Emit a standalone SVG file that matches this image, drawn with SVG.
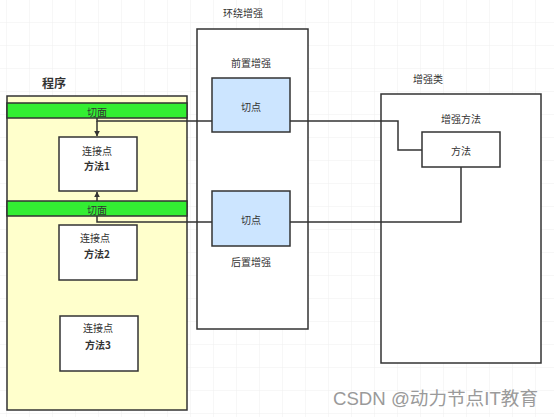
<svg xmlns="http://www.w3.org/2000/svg" width="554" height="417" viewBox="0 0 554 417">
<defs>
<pattern id="grid" width="23" height="23" patternUnits="userSpaceOnUse" x="7" y="0">
<path d="M23 0V23M0 23H23" fill="none" stroke="#efefef" stroke-width="1"/>
</pattern>
<marker id="arr" viewBox="0 0 10 10" refX="9" refY="5" markerWidth="6" markerHeight="6" orient="auto" markerUnits="userSpaceOnUse">
<path d="M0 0L10 5L0 10z" fill="#333"/>
</marker>
<style>
.box{stroke:#333;stroke-width:1.5}
.t{font-family:"Noto Sans CJK SC","Liberation Sans",sans-serif;font-size:10px;fill:#333;text-anchor:middle;dominant-baseline:central}
.b{font-weight:bold}
.ln{fill:none;stroke:#333;stroke-width:1.5}
</style>
</defs>
<rect width="554" height="417" fill="#fff"/>
<rect width="554" height="417" fill="url(#grid)"/>

<g id="program">
<text class="t b" x="54" y="82" style="font-size:12px">程序</text>
<rect class="box" x="7" y="96" width="180" height="314" fill="#ffffcc"/>
</g>
<g id="aspect1">
<rect class="box" x="7" y="103" width="180" height="15" fill="#33ee33"/>
<text class="t" x="97" y="111">切面</text>
</g>
<g id="aspect2">
<rect class="box" x="7" y="201" width="180" height="15" fill="#33ee33"/>
<text class="t" x="97" y="209">切面</text>
</g>
<g id="joinpoint1">
<rect class="box" x="59" y="137" width="78" height="54" fill="#fff"/>
<text class="t" x="97" y="150">连接点</text>
<text class="t b" x="97" y="165">方法1</text>
</g>
<g id="joinpoint2">
<rect class="box" x="59" y="225" width="78" height="55" fill="#fff"/>
<text class="t" x="95" y="237">连接点</text>
<text class="t b" x="97" y="253">方法2</text>
</g>
<g id="joinpoint3">
<rect class="box" x="60" y="316" width="78" height="55" fill="#fff"/>
<text class="t" x="98" y="327">连接点</text>
<text class="t b" x="98" y="344">方法3</text>
</g>

<g id="around">
<text class="t" x="243" y="12">环绕增强</text>
<rect class="box" x="197" y="29" width="111" height="300" fill="#fff"/>
<text class="t" x="251" y="62">前置增强</text>
<text class="t" x="251" y="261">后置增强</text>
</g>
<g id="pointcut1">
<rect class="box" x="212" y="78" width="78" height="54" fill="#cce5ff"/>
<text class="t" x="251" y="106">切点</text>
</g>
<g id="pointcut2">
<rect class="box" x="212" y="191" width="78" height="55" fill="#cce5ff"/>
<text class="t" x="251" y="219">切点</text>
</g>

<g id="advice-class">
<text class="t" x="428" y="78">增强类</text>
<rect class="box" x="381" y="94" width="160" height="269" fill="#fff"/>
<text class="t" x="461" y="118">增强方法</text>
</g>
<g id="advice-method">
<rect class="box" x="422" y="132" width="78" height="35" fill="#fff"/>
<text class="t" x="461" y="150">方法</text>
</g>

<g id="connectors">
<path class="ln" d="M97 118V121H212"/>
<path class="ln" d="M97 121V136" marker-end="url(#arr)"/>
<path class="ln" d="M97 201V192" marker-end="url(#arr)"/>
<path class="ln" d="M290 121H398V150H422"/>
<path class="ln" d="M97 216V222H212"/>
<path class="ln" d="M290 222H461V167"/>
</g>

<text x="333" y="405" textLength="205" lengthAdjust="spacingAndGlyphs" style="font-family:'Liberation Sans','Noto Sans CJK SC',sans-serif;font-size:18px;fill:#9a9a9a">CSDN @动力节点IT教育</text>
</svg>
